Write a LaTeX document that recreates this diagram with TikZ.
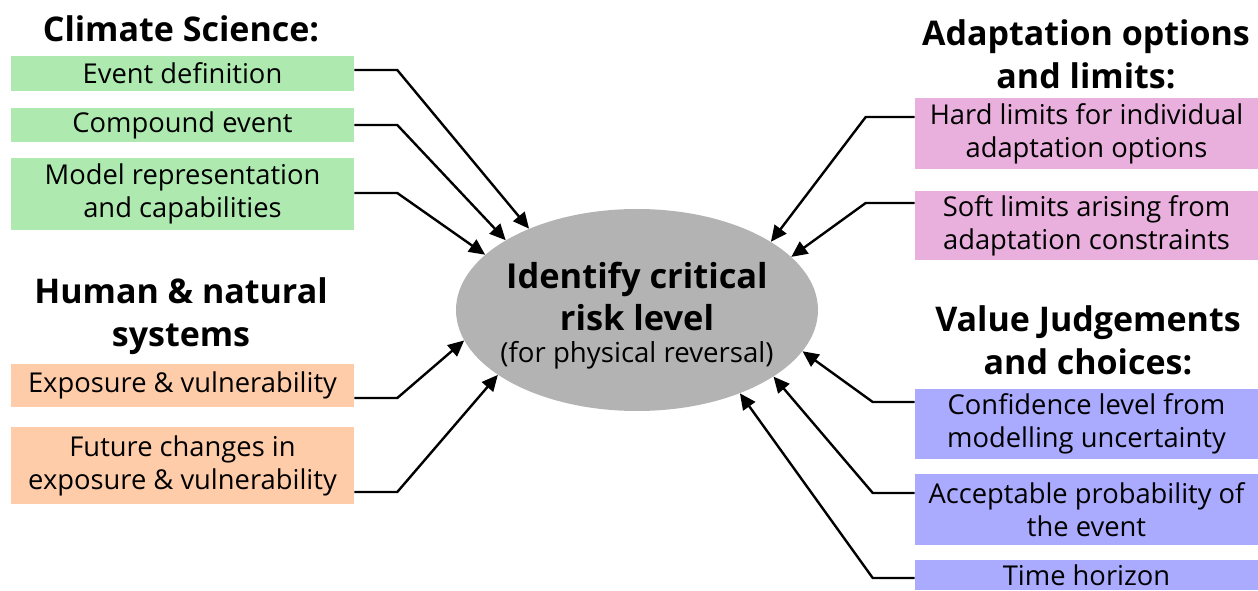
\documentclass[tikz,border=0pt]{standalone}
\usepackage{fontspec}
\setmainfont{Open Sans}
\usetikzlibrary{shapes, arrows.meta, positioning}
\definecolor{CSgreen}{RGB}{174, 234, 176}
\definecolor{HNorange}{RGB}{255, 204, 170}
\definecolor{ALpink}{RGB}{233, 175, 221}
\definecolor{VJblue}{RGB}{170, 170, 255}
\definecolor{ELgray}{RGB}{179, 179, 179}
\tikzset{
    itembox/.style={
        rectangle, inner sep=0pt, minimum width=257.25pt, align=center,
        font=\fontsize{20.5}{24.75}\selectfont
    },
    heading/.style={align=center, font=\fontsize{25.5}{32.5}\selectfont\bfseries},
    arrow/.style={-{Triangle[length=12pt, width=11pt]}, line width=1.8pt, black},
}
\begin{document}
\begin{tikzpicture}[x=0.75pt, y=-0.75pt]
                \useasboundingbox (0,0) rectangle (1258,591);
                % Centre
                \node[ellipse, fill=ELgray, inner sep=0pt, minimum width=271.5pt, minimum height=151.5pt] (crit) at (637, 310) {};
                \node[align=center, font=\fontsize{25.8}{31.5}\selectfont\bfseries] (critT) at (637, 297) {Identify critical\\risk level};
                \node[font=\fontsize{20.7}{24.75}\selectfont] (critS) at (637, 355) {(for physical reversal)};

                % Headings
                \node[heading] (hcs) at (181, 29) {Climate Science:};
                \node[heading] (hhn) at (181, 316) {Human \& natural\\systems};
                \node[heading] (hal) at (1086, 54) {Adaptation options\\and limits:};
                \node[heading] (hvj) at (1088, 340) {Value Judgements\\and choices:};

                % Left boxes
                \node[itembox, fill=CSgreen, minimum height=26.25pt] (event) at (182.5, 73.5) {Event definition};
                \node[itembox, fill=CSgreen, minimum height=25.5pt] (comp) at (182.5, 125) {Compound event};
                \node[itembox, fill=CSgreen, minimum height=54pt] (model) at (182.5, 194) {Model representation\\and capabilities};
                \node[itembox, fill=HNorange, minimum height=32.25pt] (expo) at (182.5, 385.5) {Exposure \& vulnerability};
                \node[itembox, fill=HNorange, minimum height=57.75pt] (future) at (182.5, 465.5) {Future changes in\\exposure \& vulnerability};

                % Right boxes
                \node[itembox, fill=ALpink, minimum height=53.25pt] (hard) at (1086.5, 133.5) {Hard limits for individual\\adaptation options};
                \node[itembox, fill=ALpink, minimum height=51.75pt] (soft) at (1086.5, 225.5) {Soft limits arising from\\adaptation constraints};
                \node[itembox, fill=VJblue, minimum height=52.5pt] (conf) at (1086.5, 424) {Confidence level from\\modelling uncertainty};
                \node[itembox, fill=VJblue, minimum height=53.25pt] (accept) at (1086.5, 509.5) {Acceptable probability of\\the event};
                \node[itembox, fill=VJblue, minimum height=22.5pt] (time) at (1086.5, 575) {Time horizon};

                % Arrows
                \draw[arrow] ([yshift=2.6pt]event.east) -- ++(43,0) -- (crit.143);
                \draw[arrow] (comp.east) -- ++(43,0) -- (crit.152);
                \draw[arrow] ([yshift=0.75pt]model.east) -- ++(43,0) -- (crit.160);
                \draw[arrow] ([yshift=-9.4pt]expo.east) -- ++(43,0) -- (crit.190);
                \draw[arrow] ([yshift=-19.9pt]future.east) -- ++(43,0) -- (crit.205);
                \draw[arrow] ([yshift=12.4pt]hard.west) -- ++(-49,0) -- (crit.27);
                \draw[arrow] ([yshift=16.9pt]soft.west) -- ++(-49,0) -- (crit.19);
                \draw[arrow] ([yshift=16.5pt]conf.west) -- ++(-42,0) -- (crit.346);
                \draw[arrow] ([yshift=12.4pt]accept.west) -- ++(-42,0) -- (crit.334);
                \draw[arrow] ([yshift=-2.25pt]time.west) -- ++(-42,0) -- (crit.321);
            \end{tikzpicture}
\end{document}
